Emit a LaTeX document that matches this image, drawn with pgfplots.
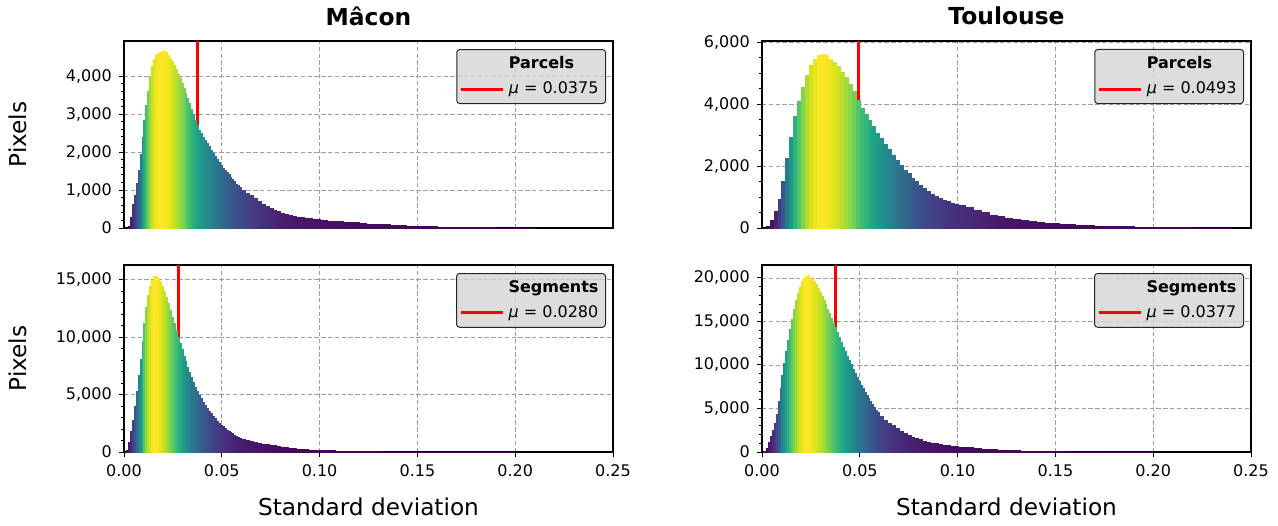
\documentclass[border=0pt]{standalone}
\usepackage{fontspec}
\setmainfont{DejaVu Sans}
\usepackage{pgfplots}
\pgfplotsset{compat=1.18}
\usepackage{pgfplotstable}

% columns: bin left edge, count, bin width
\pgfplotstableread{
x h w
0.000 0 0.001
0.001 0 0.001
0.002 60 0.001
0.003 300 0.001
0.004 620 0.001
0.005 880 0.001
0.006 1180 0.001
0.007 1520 0.001
0.008 1950 0.001
0.009 2400 0.001
0.010 2850 0.001
0.011 3250 0.001
0.012 3620 0.001
0.013 4000 0.001
0.014 4280 0.001
0.015 4450 0.001
0.016 4560 0.001
0.017 4620 0.001
0.018 4650 0.001
0.019 4670 0.001
0.020 4660 0.001
0.021 4630 0.001
0.022 4570 0.001
0.023 4490 0.001
0.024 4400 0.001
0.025 4300 0.001
0.026 4190 0.001
0.027 4070 0.001
0.028 3950 0.001
0.029 3830 0.001
0.030 3700 0.001
0.031 3560 0.001
0.032 3420 0.001
0.033 3280 0.001
0.034 3130 0.001
0.035 2990 0.001
0.036 2840 0.001
0.037 2700 0.001
0.038 2580 0.001
0.039 2490 0.001
0.040 2400 0.001
0.041 2320 0.001
0.042 2230 0.001
0.043 2150 0.001
0.044 2060 0.001
0.045 1980 0.001
0.046 1900 0.001
0.047 1820 0.001
0.048 1740 0.001
0.049 1660 0.001
0.050 1590 0.001
0.051 1530 0.001
0.052 1470 0.001
0.053 1410 0.001
0.054 1350 0.001
0.055 1290 0.001
0.056 1230 0.001
0.057 1170 0.001
0.058 1120 0.001
0.059 1080 0.001
0.060 1010 0.002
0.062 930 0.002
0.064 860 0.002
0.066 800 0.002
0.068 720 0.002
0.070 640 0.002
0.072 580 0.002
0.074 530 0.002
0.076 480 0.002
0.078 440 0.002
0.080 400 0.002
0.082 360 0.002
0.084 330 0.002
0.086 310 0.002
0.088 295 0.002
0.090 280 0.002
0.092 268 0.002
0.094 255 0.002
0.096 240 0.002
0.098 225 0.002
0.100 205 0.004
0.104 190 0.004
0.108 175 0.004
0.112 163 0.004
0.116 146 0.004
0.120 128 0.004
0.124 115 0.004
0.128 103 0.004
0.132 94 0.004
0.136 82 0.004
0.140 67 0.004
0.144 58 0.004
0.148 50 0.004
0.152 44 0.004
0.156 38 0.004
0.160 30 0.010
0.170 20 0.010
0.180 14 0.010
0.190 8 0.010
0.200 4 0.010
}\maconparcels

\pgfplotstableread{
x h w
0.000 0 0.002
0.002 60 0.002
0.004 250 0.002
0.006 550 0.002
0.008 950 0.002
0.010 1500 0.002
0.012 2250 0.002
0.014 2950 0.002
0.016 3600 0.002
0.018 4100 0.002
0.020 4550 0.002
0.022 4950 0.002
0.024 5250 0.002
0.026 5450 0.002
0.028 5580 0.002
0.030 5620 0.002
0.032 5580 0.002
0.034 5470 0.002
0.036 5350 0.002
0.038 5220 0.002
0.040 5050 0.002
0.042 4870 0.002
0.044 4650 0.002
0.046 4420 0.002
0.048 4120 0.002
0.050 3870 0.002
0.052 3680 0.002
0.054 3480 0.002
0.056 3280 0.002
0.058 3080 0.002
0.060 2900 0.002
0.062 2720 0.002
0.064 2540 0.002
0.066 2360 0.002
0.068 2200 0.002
0.070 2030 0.002
0.072 1880 0.002
0.074 1760 0.002
0.076 1620 0.002
0.078 1500 0.002
0.080 1380 0.002
0.082 1280 0.002
0.084 1190 0.002
0.086 1100 0.002
0.088 1030 0.002
0.090 970 0.002
0.092 910 0.002
0.094 860 0.002
0.096 810 0.002
0.098 770 0.002
0.100 730 0.004
0.104 660 0.004
0.108 590 0.004
0.112 520 0.004
0.116 430 0.004
0.120 370 0.004
0.124 320 0.004
0.128 280 0.004
0.132 250 0.004
0.136 225 0.004
0.140 195 0.004
0.144 170 0.004
0.148 145 0.004
0.152 125 0.004
0.156 110 0.004
0.160 95 0.010
0.170 70 0.010
0.180 55 0.010
0.190 40 0.010
0.200 28 0.010
0.210 18 0.010
0.220 10 0.010
0.230 5 0.010
}\toulouseparcels

\pgfplotstableread{
x h w
0.000 0 0.001
0.001 150 0.001
0.002 900 0.001
0.003 1800 0.001
0.004 2800 0.001
0.005 4000 0.001
0.006 5300 0.001
0.007 6700 0.001
0.008 8100 0.001
0.009 9700 0.001
0.010 11200 0.001
0.011 12600 0.001
0.012 13700 0.001
0.013 14500 0.001
0.014 15000 0.001
0.015 15300 0.001
0.016 15350 0.001
0.017 15200 0.001
0.018 14900 0.001
0.019 14500 0.001
0.020 14000 0.001
0.021 13500 0.001
0.022 12950 0.001
0.023 12400 0.001
0.024 11800 0.001
0.025 11200 0.001
0.026 10600 0.001
0.027 10050 0.001
0.028 9500 0.001
0.029 8950 0.001
0.030 8400 0.001
0.031 7900 0.001
0.032 7400 0.001
0.033 6950 0.001
0.034 6500 0.001
0.035 6100 0.001
0.036 5700 0.001
0.037 5350 0.001
0.038 5000 0.001
0.039 4680 0.001
0.040 4380 0.001
0.041 4100 0.001
0.042 3830 0.001
0.043 3580 0.001
0.044 3350 0.001
0.045 3130 0.001
0.046 2920 0.001
0.047 2720 0.001
0.048 2540 0.001
0.049 2370 0.001
0.050 2220 0.001
0.051 2080 0.001
0.052 1950 0.001
0.053 1830 0.001
0.054 1720 0.001
0.055 1610 0.001
0.056 1510 0.001
0.057 1420 0.001
0.058 1330 0.001
0.059 1250 0.001
0.060 1140 0.002
0.062 1030 0.002
0.064 940 0.002
0.066 860 0.002
0.068 790 0.002
0.070 730 0.002
0.072 670 0.002
0.074 610 0.002
0.076 560 0.002
0.078 510 0.002
0.080 455 0.002
0.082 405 0.002
0.084 360 0.002
0.086 320 0.002
0.088 285 0.002
0.090 255 0.002
0.092 230 0.002
0.094 205 0.002
0.096 185 0.002
0.098 165 0.002
0.100 150 0.004
0.104 125 0.004
0.108 105 0.004
0.112 90 0.004
0.116 75 0.004
0.120 60 0.004
0.124 48 0.004
0.128 38 0.004
0.132 28 0.004
0.136 20 0.004
0.140 14 0.004
0.144 10 0.004
0.148 7 0.004
0.152 5 0.008
0.160 3 0.020
0.180 1 0.020
}\maconsegments

\pgfplotstableread{
x h w
0.000 0 0.001
0.001 80 0.001
0.002 500 0.001
0.003 1100 0.001
0.004 1800 0.001
0.005 2500 0.001
0.006 3300 0.001
0.007 4400 0.001
0.008 5800 0.001
0.009 7300 0.001
0.010 8800 0.001
0.011 10200 0.001
0.012 11600 0.001
0.013 12900 0.001
0.014 14100 0.001
0.015 15300 0.001
0.016 16400 0.001
0.017 17400 0.001
0.018 18300 0.001
0.019 19000 0.001
0.020 19600 0.001
0.021 20000 0.001
0.022 20250 0.001
0.023 20300 0.001
0.024 20150 0.001
0.025 19900 0.001
0.026 19600 0.001
0.027 19250 0.001
0.028 18850 0.001
0.029 18400 0.001
0.030 17950 0.001
0.031 17450 0.001
0.032 16950 0.001
0.033 16450 0.001
0.034 15950 0.001
0.035 15400 0.001
0.036 14850 0.001
0.037 14300 0.001
0.038 13750 0.001
0.039 13200 0.001
0.040 12650 0.001
0.041 12100 0.001
0.042 11550 0.001
0.043 11050 0.001
0.044 10550 0.001
0.045 10050 0.001
0.046 9550 0.001
0.047 9050 0.001
0.048 8600 0.001
0.049 8150 0.001
0.050 7700 0.001
0.051 7300 0.001
0.052 6900 0.001
0.053 6500 0.001
0.054 6150 0.001
0.055 5800 0.001
0.056 5450 0.001
0.057 5150 0.001
0.058 4850 0.001
0.059 4550 0.001
0.060 4150 0.002
0.062 3700 0.002
0.064 3350 0.002
0.066 3050 0.002
0.068 2700 0.002
0.070 2400 0.002
0.072 2150 0.002
0.074 1920 0.002
0.076 1750 0.002
0.078 1580 0.002
0.080 1430 0.002
0.082 1300 0.002
0.084 1180 0.002
0.086 1080 0.002
0.088 980 0.002
0.090 890 0.002
0.092 820 0.002
0.094 760 0.002
0.096 700 0.002
0.098 650 0.002
0.100 590 0.004
0.104 510 0.004
0.108 430 0.004
0.112 370 0.004
0.116 310 0.004
0.120 260 0.004
0.124 210 0.004
0.128 175 0.004
0.132 145 0.004
0.136 120 0.004
0.140 100 0.004
0.144 80 0.004
0.148 65 0.004
0.152 50 0.004
0.156 40 0.004
0.160 25 0.010
0.170 14 0.010
0.180 7 0.010
0.190 3 0.010
}\toulousesegments

% one histogram bar: from the point (x, h) across the bin width and down to 0
\pgfdeclareplotmark{histbar}{%
  \pgfpathrectanglecorners{\pgfpointorigin}{\pgfplotspointaxisdirectionxy{\barw}{-\barh}}%
  \pgfusepathqfillstroke
}

\pgfplotsset{
  histaxis/.style={
    scale only axis, width=244.5pt, height=93.5pt,
    xmin=0, xmax=0.25, ymin=0,
    xtick={0,0.05,0.1,0.15,0.2,0.25},
    scaled y ticks=false,
    grid=major,
    major grid style={dash pattern=on 2.2pt off 1.2pt, black!38, line width=0.45pt},
    axis line style={line width=0.6pt},
    tick align=outside, xtick pos=bottom, ytick pos=left,
    major tick length=2.6pt, minor tick length=1.5pt,
    every tick/.style={black, line width=0.5pt},
    tick label style={font=\fontsize{8}{9.6}\selectfont},
    /pgf/number format/assume math mode=true,
    yticklabel style={/pgf/number format/1000 sep={,}},
    xticklabel style={/pgf/number format/fixed, /pgf/number format/fixed zerofill, /pgf/number format/precision=2},
    colormap/viridis,
    legend cell align=left,
    legend style={at={(1,1)}, anchor=north east, xshift=-3.5pt, yshift=-4pt,
      fill=black!17, fill opacity=0.8, text opacity=1, draw=black!85, line width=0.5pt,
      rounded corners=1.5pt, font=\fontsize{8}{9.6}\selectfont,
      inner xsep=1.5pt, inner ysep=1.5pt, row sep=1pt},
    every axis title/.style={at={(0.5,1)}, anchor=base, yshift=8pt, font=\fontsize{11.7}{13.5}\selectfont\bfseries},
    every axis y label/.style={at={(rel axis cs:0,0.5)}, anchor=center, xshift=-53pt, rotate=90, font=\fontsize{11.6}{13}\selectfont},
    every axis x label/.style={at={(rel axis cs:0.5,0)}, anchor=center, yshift=-27.5pt, font=\fontsize{11.6}{13}\selectfont},
  },
  toprow/.style={xticklabels={}, xtick style={draw=none}},
  meanline/.style={red, line width=1.7pt, legend image code/.code={\draw[red, line width=1.5pt] (0pt,0pt) -- (21pt,0pt);}},
  hist/.style={scatter, only marks, mark=histbar, forget plot,
    point meta=\thisrow{h},
    visualization depends on={\thisrow{h} \as \barh},
    visualization depends on={\thisrow{w} \as \barw},
    scatter/use mapped color={draw=mapped color, fill=mapped color},
    mark options={line width=0.1pt}},
}

\begin{document}
\begin{tikzpicture}
\useasboundingbox (0,0) rectangle (639pt,262.5pt);
% top left
\begin{axis}[histaxis, toprow, at={(62pt,148.5pt)}, anchor=south west,
  ymax=4930, ytick={0,1000,2000,3000,4000}, minor y tick num=4,
  title={Mâcon}, ylabel={Pixels}]
\addlegendimage{empty legend}
\addlegendentry{\textbf{Parcels}}
\addplot[meanline] coordinates {(0.0375,0) (0.0375,4930)};
\addlegendentry{\textit{μ} = 0.0375}
\addplot[hist] table[x=x, y=h] {\maconparcels};
\end{axis}
% top right
\begin{axis}[histaxis, toprow, at={(381pt,148.5pt)}, anchor=south west,
  ymax=6043, ytick={0,2000,4000,6000}, minor y tick num=3,
  title={Toulouse}]
\addlegendimage{empty legend}
\addlegendentry{\textbf{Parcels}}
\addplot[meanline] coordinates {(0.0493,0) (0.0493,6043)};
\addlegendentry{\textit{μ} = 0.0493}
\addplot[hist] table[x=x, y=h] {\toulouseparcels};
\end{axis}
% bottom left
\begin{axis}[histaxis, at={(62pt,36.5pt)}, anchor=south west,
  ymax=16300, ytick={0,5000,10000,15000}, minor y tick num=4,
  ylabel={Pixels}, xlabel={Standard deviation}]
\addlegendimage{empty legend}
\addlegendentry{\textbf{Segments}}
\addplot[meanline] coordinates {(0.0280,0) (0.0280,16300)};
\addlegendentry{\textit{μ} = 0.0280}
\addplot[hist] table[x=x, y=h] {\maconsegments};
\end{axis}
% bottom right
\begin{axis}[histaxis, at={(381pt,36.5pt)}, anchor=south west,
  ymax=21490, ytick={0,5000,10000,15000,20000}, minor y tick num=4,
  xlabel={Standard deviation}]
\addlegendimage{empty legend}
\addlegendentry{\textbf{Segments}}
\addplot[meanline] coordinates {(0.0377,0) (0.0377,21490)};
\addlegendentry{\textit{μ} = 0.0377}
\addplot[hist] table[x=x, y=h] {\toulousesegments};
\end{axis}
\end{tikzpicture}
\end{document}
